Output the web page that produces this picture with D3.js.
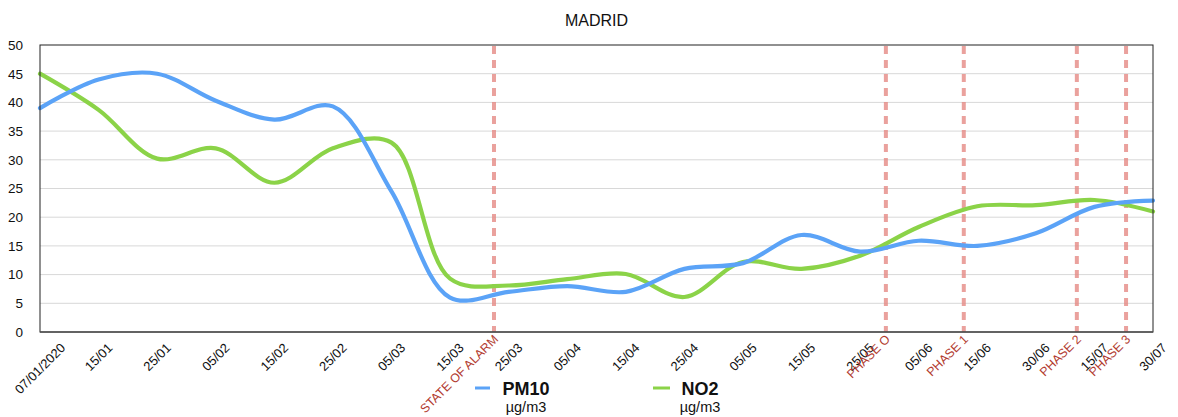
<!DOCTYPE html>
<html>
<head>
<meta charset="utf-8">
<script src="https://cdn.jsdelivr.net/npm/d3@7"></script>
<style>
  body { margin: 0; background: #fff; }
  svg { font-family: "Liberation Sans", Arial, Helvetica, sans-serif; }
</style>
</head>
<body>
<svg id="chart" width="1178" height="417"></svg>
<script>
// Madrid PM10 / NO2 chart

// Data
const categories = ["07/01/2020", "15/01", "25/01", "05/02", "15/02", "25/02", "05/03", "15/03",
  "25/03", "05/04", "15/04", "25/04", "05/05", "15/05", "25/05", "05/06", "15/06", "30/06",
  "15/07", "30/07"];
const pm10 = [39, 44, 45, 40.3, 37, 39.3, 24.5, 6, 7, 8, 7, 11, 12, 16.9, 14, 15.9, 15, 17.2, 21.8, 22.9];
const no2 = [45, 38.7, 30.2, 32, 26, 32, 33, 9.3, 8.1, 9.2, 10.1, 6.1, 12.2, 11, 13.3, 18.3, 21.9, 22.1, 23, 21];
const yTicks = [0, 5, 10, 15, 20, 25, 30, 35, 40, 45, 50];
// phase markers, as position along the category axis (index units)
const phaseLabels = ["STATE OF ALARM", "PHASE O", "PHASE 1", "PHASE 2", "PHASE 3"];
const phaseAt = [7.75, 14.44, 15.77, 17.7, 18.54];
const seriesNames = ["PM10", "NO2"];
const unit = "µg/m3";

const svg = d3.select("#chart");
const margin = { left: 40, right: 25, top: 45, bottom: 85 };
const width = +svg.attr("width");
const height = +svg.attr("height");
const plotW = width - margin.left - margin.right;
const plotH = height - margin.top - margin.bottom;

const x = d3.scaleLinear().domain([0, categories.length - 1]).range([margin.left, margin.left + plotW]);
const y = d3.scaleLinear().domain([0, 50]).range([margin.top + plotH, margin.top]);

const blue = "#5ba3f7";
const green = "#8bd348";

// Title
svg.append("text")
  .attr("x", margin.left + plotW / 2)
  .attr("y", 26)
  .attr("text-anchor", "middle")
  .attr("font-size", 16)
  .attr("fill", "#111")
  .text("MADRID");

// Gridlines
svg.append("g")
  .selectAll("line")
  .data(yTicks.filter(d => d > 0 && d < 50))
  .join("line")
  .attr("x1", margin.left)
  .attr("x2", margin.left + plotW)
  .attr("y1", d => y(d))
  .attr("y2", d => y(d))
  .attr("stroke", "#d8d8d8")
  .attr("stroke-width", 1);

// Y axis labels
const yAxis = d3.axisLeft(y).tickValues(yTicks).tickSize(0).tickPadding(17);
svg.append("g")
  .attr("transform", `translate(${margin.left},0)`)
  .call(yAxis)
  .call(g => g.select(".domain").remove())
  .call(g => g.selectAll("text").attr("font-size", 13.5).attr("fill", "#111")
    .attr("font-family", "Liberation Sans, Arial, sans-serif"));

// Phase lines
svg.append("g")
  .selectAll("line")
  .data(phaseAt)
  .join("line")
  .attr("x1", d => x(d))
  .attr("x2", d => x(d))
  .attr("y1", margin.top + 1)
  .attr("y2", margin.top + plotH)
  .attr("stroke", "#e58a84")
  .attr("stroke-opacity", 0.8)
  .attr("stroke-width", 4)
  .attr("stroke-dasharray", "8,6");

// Series lines
const line = d3.line()
  .x((d, i) => x(i))
  .y(d => y(d))
  .curve(d3.curveCatmullRom.alpha(0.5));

svg.append("path")
  .datum(no2)
  .attr("d", line)
  .attr("fill", "none")
  .attr("stroke", green)
  .attr("stroke-width", 4.2)
  .attr("stroke-linecap", "round");

svg.append("path")
  .datum(pm10)
  .attr("d", line)
  .attr("fill", "none")
  .attr("stroke", blue)
  .attr("stroke-width", 4.2)
  .attr("stroke-linecap", "round");

// Plot frame
svg.append("rect")
  .attr("x", margin.left)
  .attr("y", margin.top)
  .attr("width", plotW)
  .attr("height", plotH)
  .attr("fill", "none")
  .attr("stroke", "#222")
  .attr("stroke-width", 1);
svg.append("line")
  .attr("x1", margin.left)
  .attr("x2", margin.left + plotW)
  .attr("y1", margin.top + plotH)
  .attr("y2", margin.top + plotH)
  .attr("stroke", "#555")
  .attr("stroke-width", 1.6);

// X labels (rotated, bounding box centered under each point)
const labelTop = margin.top + plotH + 10;
const xl = svg.append("g")
  .selectAll("text")
  .data(categories)
  .join("text")
  .attr("text-anchor", "middle")
  .attr("dominant-baseline", "central")
  .attr("font-size", 13)
  .attr("fill", "#111")
  .text(d => d);
xl.attr("transform", function(d, i) {
  const w = this.getComputedTextLength();
  const cy = labelTop + (w + 10) * 0.707 / 2;
  return `translate(${x(i)},${cy}) rotate(-45)`;
});

// Phase labels
svg.append("g")
  .selectAll("text")
  .data(phaseLabels)
  .join("text")
  .attr("text-anchor", "end")
  .attr("font-size", 12.4)
  .attr("fill", "#b23b2f")
  .attr("transform", (d, i) => `translate(${x(phaseAt[i]) + 5},${labelTop - 2}) rotate(-45)`)
  .text(d => d);

// Legend
const legendX = [526, 700];
const legendColors = [blue, green];
const legend = svg.append("g")
  .selectAll("g")
  .data(seriesNames)
  .join("g")
  .attr("transform", (d, i) => `translate(${legendX[i]},0)`);
legend.append("line")
  .attr("x1", (d, i) => i === 0 ? -51 : -47)
  .attr("x2", (d, i) => i === 0 ? -36 : -30)
  .attr("y1", 388)
  .attr("y2", 388)
  .attr("stroke", (d, i) => legendColors[i])
  .attr("stroke-width", 3);
legend.append("text")
  .attr("text-anchor", "middle")
  .attr("y", 395)
  .attr("font-size", 18)
  .attr("font-weight", "bold")
  .attr("fill", "#111")
  .text(d => d);
legend.append("text")
  .attr("text-anchor", "middle")
  .attr("y", 411.5)
  .attr("font-size", 14.5)
  .attr("fill", "#111")
  .text(unit);
</script>
</body>
</html>
